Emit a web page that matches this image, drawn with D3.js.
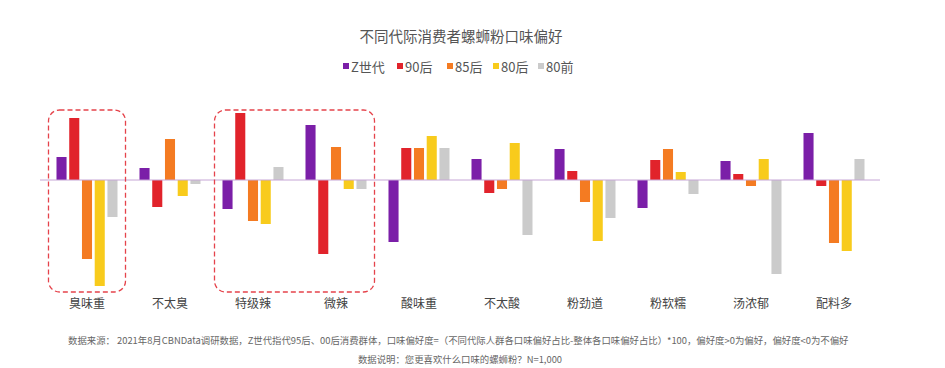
<!DOCTYPE html>
<html>
<head>
<meta charset="utf-8">
<script src="https://cdn.jsdelivr.net/npm/d3@7"></script>
<style>
  body { margin: 0; background: #fff; }
  svg { font-family: "Noto Sans CJK SC", "Noto Sans", sans-serif; }
</style>
</head>
<body>
<svg id="chart"></svg>
<script>
// categories and series
var categories = ["臭味重", "不太臭", "特级辣", "微辣", "酸味重", "不太酸", "粉劲道", "粉软糯", "汤浓郁", "配料多"]
var seriesNames = ["Z世代", "90后", "85后", "80后", "80前"]
var seriesColors = ["#7b1fa8", "#e1232b", "#f47b22", "#f8cb1c", "#cbcbcb"]

// preference values
var genZ   = [2.3, 1.2, -2.9, 5.5, -6.2, 2.1, 3.1, -2.8, 1.9, 4.7]
var post90 = [6.2, -2.7, 6.7, -7.4, 3.2, -1.3, 0.9, 2.0, 0.6, -0.6]
var post85 = [-7.9, 4.1, -4.1, 3.3, 3.2, -0.9, -2.2, 3.1, -0.6, -6.3]
var post80 = [-10.6, -1.6, -4.4, -0.9, 4.4, 3.7, -6.1, 0.8, 2.1, -7.1]
var pre80  = [-3.7, -0.4, 1.3, -0.9, 3.2, -5.5, -3.8, -1.4, -9.4, 2.1]
var allSeries = [genZ, post90, post85, post80, pre80]

// the two highlighted groups
var highlights = [["臭味重", "臭味重"], ["特级辣", "微辣"]]

var footer1 = "数据来源：  2021年8月CBNData调研数据，Z世代指代95后、00后消费群体，口味偏好度=（不同代际人群各口味偏好占比-整体各口味偏好占比）*100，偏好度>0为偏好，偏好度<0为不偏好"
var footer2 = "数据说明：您更喜欢什么口味的螺蛳粉？N=1,000"

var dimensions = {
    width: 945,
    height: 368
}

var svg = d3.select("#chart")
            .attr("width", dimensions.width)
            .attr("height", dimensions.height)

var x0 = d3.scaleBand()
            .domain(categories)
            .range([45.5, 875.5])
            .paddingInner(0.265)
            .paddingOuter(0.1325)

var x1 = d3.scaleBand()
            .domain(seriesNames)
            .range([0, x0.bandwidth()])
            .paddingInner(0.21)

var yScale = d3.scaleLinear()
            .domain([0, 1])
            .range([180, 170])

// title
svg.append("text")
    .attr("x", 461)
    .attr("y", 42)
    .attr("text-anchor", "middle")
    .style("font-size", "14.5px")
    .style("fill", "#555")
    .text("不同代际消费者螺蛳粉口味偏好")

// legend
var legendX = [343, 397, 447, 493, 538]
var legend = svg.selectAll(".legend")
    .data(seriesNames)
    .enter()
    .append("g")
    .attr("transform", (d, i) => `translate(${legendX[i]},67)`)

legend.append("rect")
    .attr("x", 0).attr("y", -4)
    .attr("width", 6).attr("height", 6)
    .attr("fill", (d, i) => seriesColors[i])

legend.append("text")
    .attr("x", 8).attr("y", 0)
    .attr("dy", "0.35em")
    .style("font-size", "13px")
    .style("fill", "#555")
    .text(d => d)

// bars
var groups = svg.selectAll(".group")
    .data(categories)
    .enter()
    .append("g")
    .attr("transform", d => `translate(${x0(d)},0)`)

groups.selectAll("rect")
    .data((c, ci) => seriesNames.map((s, si) => ({ name: s, value: allSeries[si][ci], color: seriesColors[si] })))
    .enter()
    .append("rect")
    .attr("x", d => x1(d.name))
    .attr("y", d => Math.min(yScale(d.value), yScale(0)))
    .attr("width", x1.bandwidth())
    .attr("height", d => Math.abs(yScale(d.value) - yScale(0)))
    .attr("fill", d => d.color)

// zero line
svg.append("line")
    .attr("x1", 40).attr("x2", 880)
    .attr("y1", yScale(0)).attr("y2", yScale(0))
    .attr("stroke", "#c6a6d6")
    .attr("stroke-width", 1)

// dashed highlight boxes
svg.selectAll(".hl")
    .data(highlights)
    .enter()
    .append("rect")
    .attr("x", d => x0(d[0]) - 8)
    .attr("y", 110)
    .attr("width", d => x0(d[1]) + x0.bandwidth() + 8 - (x0(d[0]) - 8))
    .attr("height", 182)
    .attr("rx", 11)
    .attr("fill", "none")
    .attr("stroke", "#e5434b")
    .attr("stroke-width", 1.3)
    .attr("stroke-dasharray", "5,3")

// category labels
var xAxisgen = d3.axisBottom(x0).tickSize(0).tickPadding(0)
var xAxis = svg.append("g")
    .attr("transform", "translate(0,299)")
    .call(xAxisgen)
xAxis.select(".domain").remove()
xAxis.selectAll("text")
    .style("font-size", "12px")
    .style("fill", "#444")
    .style("font-family", "'Noto Sans CJK SC', sans-serif")

// footer
svg.append("text")
    .attr("x", 68).attr("y", 344)
    .style("font-size", "9.4px")
    .style("fill", "#666")
    .text(footer1)

svg.append("text")
    .attr("x", 460).attr("y", 363)
    .attr("text-anchor", "middle")
    .style("font-size", "9.4px")
    .style("fill", "#666")
    .text(footer2)
</script>
</body>
</html>
